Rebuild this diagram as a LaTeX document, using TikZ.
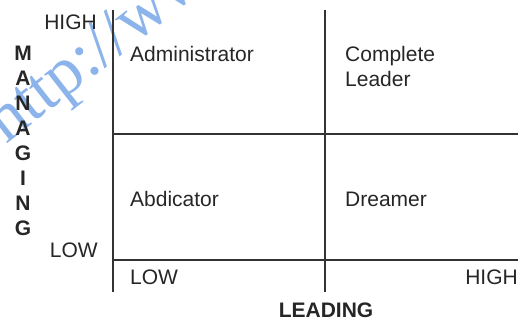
\documentclass[tikz,border=0pt]{standalone}
\usepackage{fontspec}
\setmainfont{Liberation Sans}
\newfontfamily\wmfont{Liberation Serif}
\usetikzlibrary{positioning}
\definecolor{wmblue}{RGB}{140,180,235}

\begin{document}
\begin{tikzpicture}[x=1pt, y=-1pt,
  grid/.style={draw=black!80, line width=1.3pt},
  lbl/.style={inner sep=0pt, text=black!85, font=\fontsize{21}{25}\selectfont},
  axis/.style={lbl, font=\fontsize{21}{25.1}\selectfont\bfseries, align=center}
]
\useasboundingbox (0,0) rectangle (520,320);

% watermark
\begin{scope}
  \clip (0,0) rectangle (520,320);
  \node[inner sep=0pt, anchor=base west, rotate=38, text=wmblue,
        font=\fontsize{68}{68}\wmfont] (wm) at (6,145) {http://www};
\end{scope}

% quadrant grid
\coordinate (tl) at (113,10);
\coordinate (tm) at (325,10);
\coordinate (bl) at (113,292);
\coordinate (bm) at (325,292);
\coordinate (ml) at (113,134);
\coordinate (mr) at (518,134);
\coordinate (ll) at (113,260);
\coordinate (lr) at (518,260);
\draw[grid] (tl) -- (bl);
\draw[grid] (tm) -- (bm);
\draw[grid] (ml) -- (mr);
\draw[grid] (ll) -- (lr);

% quadrant names (base of a two-line node sits on its last line)
\node[lbl, anchor=base west] (adm) at (130,62) {Administrator};
\node[lbl, anchor=base west, align=left] (cpl) at (345,87) {Complete\\Leader};
\node[lbl, anchor=base west] (abd) at (130,207) {Abdicator};
\node[lbl, anchor=base west] (drm) at (345,207) {Dreamer};

% scale ends
\node[lbl, anchor=base east] (yhi) at (97,30) {HIGH};
\node[lbl, anchor=base east] (ylo) at (98,258) {LOW};
\node[lbl, anchor=base west] (xlo) at (130,285) {LOW};
\node[lbl, anchor=base east] (xhi) at (518,285) {HIGH};

% axis titles
\node[axis, anchor=base] (mng) at (23,236) {M\\A\\N\\A\\G\\I\\N\\G};
\node[axis, anchor=base] (lead) at (326,318) {LEADING};
\end{tikzpicture}
\end{document}
